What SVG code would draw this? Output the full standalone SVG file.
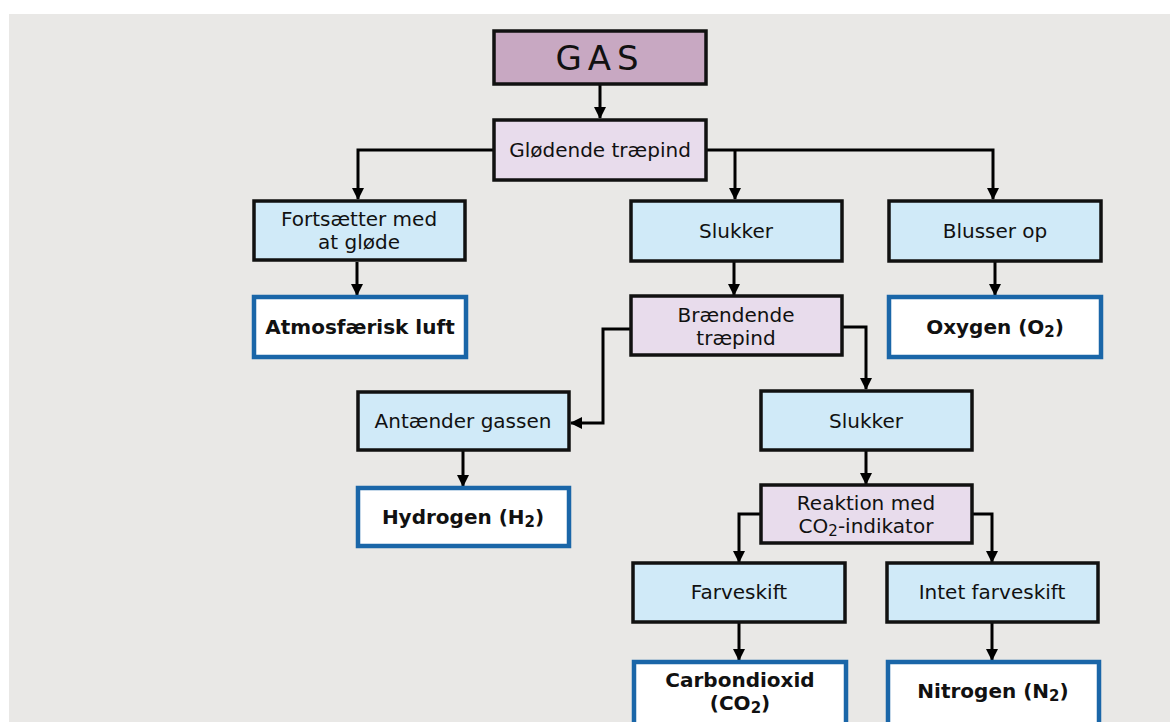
<svg xmlns="http://www.w3.org/2000/svg" width="1170" height="722" viewBox="0 0 1170 722">
<style>
text{font-family:"DejaVu Sans","Verdana",sans-serif;font-size:20px;fill:#111;text-anchor:middle}
.b{font-weight:bold}
.q{stroke:#111;stroke-width:3.5}
.blue{fill:#d0eaf8}
.lil{fill:#e8dcec}
.res{fill:#fff;stroke:#1a66a8;stroke-width:4.5}
.c{fill:none;stroke:#000;stroke-width:3}
.s{font-size:15px}
</style>
<defs>
<marker id="ah" viewBox="0 0 12 12" refX="11" refY="6" markerWidth="12" markerHeight="12" markerUnits="userSpaceOnUse" orient="auto">
<path d="M0,0 L12,6 L0,12 Z" fill="#000"/>
</marker>
</defs>
<rect width="1170" height="722" fill="#fff"/>
<rect x="9" y="14" width="1161" height="708" fill="#e9e8e6"/>
<g id="connectors" class="c">
<path d="M600,85 V118" marker-end="url(#ah)"/>
<path d="M493,150 H358 V199" marker-end="url(#ah)"/>
<path d="M707,150 H993 V199" marker-end="url(#ah)"/>
<path d="M735,150 V199" marker-end="url(#ah)"/>
<path d="M357,262 V295" marker-end="url(#ah)"/>
<path d="M734,262 V295" marker-end="url(#ah)"/>
<path d="M995,262 V295" marker-end="url(#ah)"/>
<path d="M630,329 H603 V423 H571" marker-end="url(#ah)"/>
<path d="M843,327 H866 V389" marker-end="url(#ah)"/>
<path d="M463,451 V486" marker-end="url(#ah)"/>
<path d="M866,451 V484" marker-end="url(#ah)"/>
<path d="M760,514 H739 V562" marker-end="url(#ah)"/>
<path d="M973,514 H992 V562" marker-end="url(#ah)"/>
<path d="M739,623 V660" marker-end="url(#ah)"/>
<path d="M992,623 V660" marker-end="url(#ah)"/>
</g>
<g id="gas"><rect x="494" y="31" width="212" height="53" fill="#c8a8c2" class="q"/><text x="600" y="70" style="font-size:34px;letter-spacing:6px">GAS</text></g>
<g id="gloedende"><rect x="494" y="120" width="212" height="60" class="lil q"/><text x="600" y="157">Glødende træpind</text></g>
<g id="fortsaetter"><rect x="254" y="201" width="211" height="59" class="blue q"/><text x="359" y="226">Fortsætter med</text><text x="359" y="249">at gløde</text></g>
<g id="atmos"><rect x="254" y="297" width="212" height="60" class="res"/><text x="360" y="334" class="b">Atmosfærisk luft</text></g>
<g id="slukker1"><rect x="631" y="201" width="211" height="60" class="blue q"/><text x="736" y="238">Slukker</text></g>
<g id="braendende"><rect x="631" y="296" width="211" height="59" class="lil q"/><text x="736" y="322">Brændende</text><text x="736" y="345">træpind</text></g>
<g id="blusser"><rect x="889" y="201" width="212" height="60" class="blue q"/><text x="995" y="238">Blusser op</text></g>
<g id="oxygen"><rect x="889" y="297" width="212" height="60" class="res"/><text x="995" y="334" class="b">Oxygen (O<tspan class="s" dy="3">2</tspan><tspan dy="-3">)</tspan></text></g>
<g id="antaender"><rect x="358" y="392" width="211" height="58" class="blue q"/><text x="463" y="428">Antænder gassen</text></g>
<g id="hydrogen"><rect x="358" y="488" width="211" height="58" class="res"/><text x="463" y="524" class="b">Hydrogen (H<tspan class="s" dy="3">2</tspan><tspan dy="-3">)</tspan></text></g>
<g id="slukker2"><rect x="761" y="391" width="211" height="59" class="blue q"/><text x="866" y="428">Slukker</text></g>
<g id="reaktion"><rect x="761" y="485" width="211" height="58" class="lil q"/><text x="866" y="510">Reaktion med</text><text x="866" y="533">CO<tspan class="s" dy="3">2</tspan><tspan dy="-3">-indikator</tspan></text></g>
<g id="farveskift"><rect x="633" y="563" width="212" height="59" class="blue q"/><text x="739" y="599">Farveskift</text></g>
<g id="intet"><rect x="887" y="563" width="211" height="59" class="blue q"/><text x="992" y="599">Intet farveskift</text></g>
<g id="carbon"><rect x="634" y="662" width="212" height="64" class="res"/><text x="740" y="687" class="b">Carbondioxid</text><text x="740" y="710" class="b">(CO<tspan class="s" dy="3">2</tspan><tspan dy="-3">)</tspan></text></g>
<g id="nitrogen"><rect x="888" y="662" width="211" height="64" class="res"/><text x="993" y="698" class="b">Nitrogen (N<tspan class="s" dy="3">2</tspan><tspan dy="-3">)</tspan></text></g>
</svg>
